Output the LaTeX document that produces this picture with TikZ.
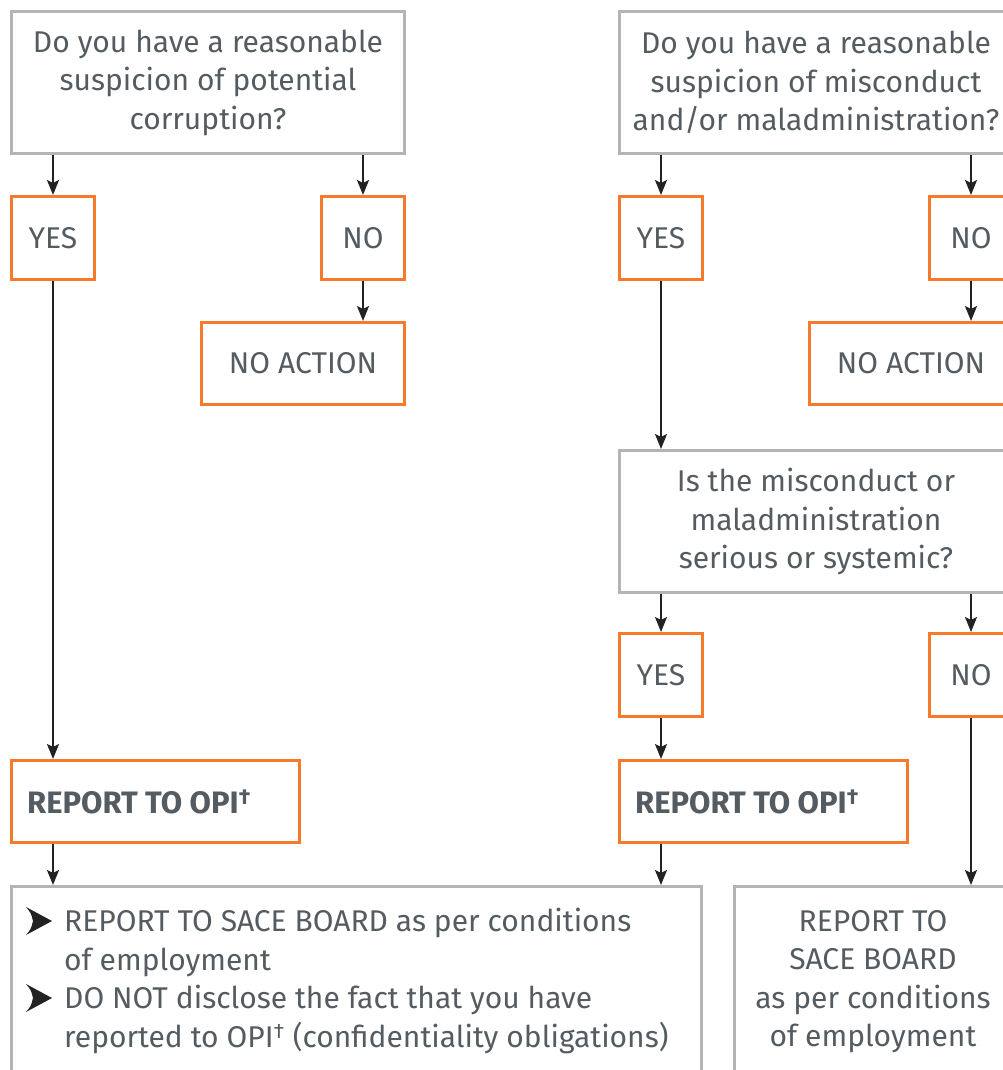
\documentclass[tikz,border=0pt]{standalone}
\usepackage{fontspec}
\setmainfont{Fira Sans}
\usetikzlibrary{arrows.meta}
\definecolor{txtc}{RGB}{85,92,97}
\definecolor{orng}{RGB}{244,123,42}
\definecolor{gry}{RGB}{180,180,180}
\definecolor{arrc}{RGB}{34,34,34}
\begin{document}
\begin{tikzpicture}[x=1pt,y=-1pt,
  txt/.style={text=txtc, font=\fontsize{30}{38.5}\selectfont, align=center, inner sep=0pt},
  bld/.style={text=txtc, font=\fontsize{31}{38.5}\selectfont\bfseries, inner sep=0pt, anchor=west},
  gbox/.style={draw=gry, line width=3pt, inner sep=0pt, anchor=north west},
  obox/.style={draw=orng, line width=3pt, inner sep=0pt, anchor=north west},
  arr/.style={draw=arrc, line width=2pt, -{Stealth[length=15pt,width=12pt,inset=3pt]}},
  bullet/.style={fill=arrc}
]
\useasboundingbox (0,0) rectangle (1003,1070);
\clip (0,0) rectangle (1003,1070);
% left column
\node[gbox, minimum width=393pt, minimum height=142pt] (q1) at (10,10) {};
\node[txt] (q1t) at (q1.center) {Do you have a reasonable\\suspicion of potential\\corruption?};
\node[obox, minimum width=83pt, minimum height=83pt] (y1) at (10,195) {};
\node[txt] (y1t) at (y1.center) {YES};
\node[obox, minimum width=83pt, minimum height=83pt] (n1) at (320,195) {};
\node[txt] (n1t) at (n1.center) {NO};
\node[obox, minimum width=203pt, minimum height=82pt] (na1) at (200,321) {};
\node[txt] (na1t) at (na1.center) {NO ACTION};
\node[obox, minimum width=288pt, minimum height=82pt] (r1) at (10,759) {};
\node[bld] (r1t) at ([xshift=17pt]r1.west) {REPORT TO OPI\textsuperscript{†}};
\node[gbox, minimum width=690pt, minimum height=200pt] (bl) at (10,885) {};
\node[txt, align=left, anchor=north west] (blt) at (64,908) {REPORT TO SACE BOARD as per conditions\\of employment\\DO NOT disclose the fact that you have\\reported to OPI\textsuperscript{†} (confidentiality obligations)};
\fill[bullet] (26,907) -- (52,921) -- (26,935) .. controls (31,929) .. (33,921) .. controls (31,913) .. cycle;
\fill[bullet] (26,984) -- (52,998) -- (26,1012) .. controls (31,1006) .. (33,998) .. controls (31,990) .. cycle;
% right column
\node[gbox, minimum width=393pt, minimum height=142pt] (q2) at (618,10) {};
\node[txt] (q2t) at (q2.center) {Do you have a reasonable\\suspicion of misconduct\\and/or maladministration?};
\node[obox, minimum width=83pt, minimum height=83pt] (y2) at (618,195) {};
\node[txt] (y2t) at (y2.center) {YES};
\node[obox, minimum width=83pt, minimum height=83pt] (n2) at (928,195) {};
\node[txt] (n2t) at (n2.center) {NO};
\node[obox, minimum width=203pt, minimum height=82pt] (na2) at (808,321) {};
\node[txt] (na2t) at (na2.center) {NO ACTION};
\node[gbox, minimum width=393pt, minimum height=142pt] (s2) at (618,449) {};
\node[txt] (s2t) at (s2.center) {Is the misconduct or\\maladministration\\serious or systemic?};
\node[obox, minimum width=83pt, minimum height=83pt] (y3) at (618,632) {};
\node[txt] (y3t) at (y3.center) {YES};
\node[obox, minimum width=83pt, minimum height=83pt] (n3) at (928,632) {};
\node[txt] (n3t) at (n3.center) {NO};
\node[obox, minimum width=288pt, minimum height=82pt] (r2) at (618,759) {};
\node[bld] (r2t) at ([xshift=17pt]r2.west) {REPORT TO OPI\textsuperscript{†}};
\node[gbox, minimum width=280pt, minimum height=200pt] (br) at (733,885) {};
\node[txt, anchor=north] (brt) at (873,910) {REPORT TO\\SACE BOARD\\as per conditions\\of employment};
% connectors
\draw[arr] (y1.north |- q1.south) -- (y1.north);
\draw[arr] (n1.north |- q1.south) -- (n1.north);
\draw[arr] (n1.south) -- (na1.north -| n1.south);
\draw[arr] (y1.south) -- (r1.north -| y1.south);
\draw[arr] (r1.south -| y1.south) -- (bl.north -| y1.south);
\draw[arr] (y2.north |- q2.south) -- (y2.north);
\draw[arr] (n2.north |- q2.south) -- (n2.north);
\draw[arr] (n2.south) -- (na2.north -| n2.south);
\draw[arr] (y2.south) -- (s2.north -| y2.south);
\draw[arr] (y3.north |- s2.south) -- (y3.north);
\draw[arr] (n3.north |- s2.south) -- (n3.north);
\draw[arr] (y3.south) -- (r2.north -| y3.south);
\draw[arr] (r2.south -| y3.south) -- (bl.north -| y3.south);
\draw[arr] (n3.south) -- (br.north -| n3.south);
\end{tikzpicture}
\end{document}
